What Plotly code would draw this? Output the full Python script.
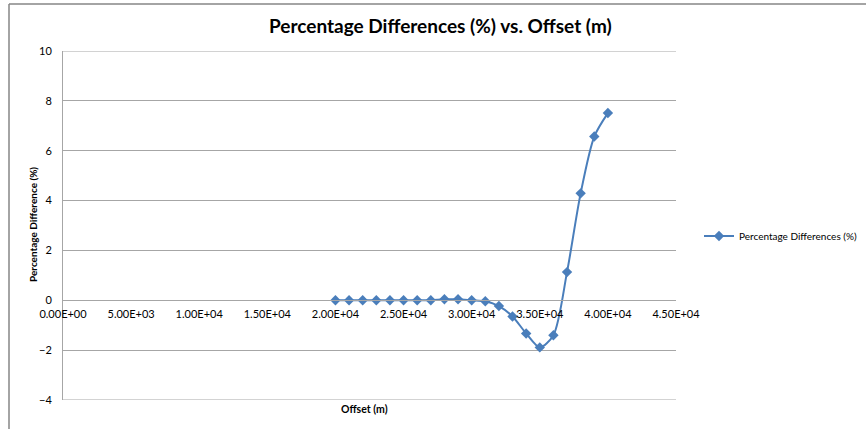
import plotly.graph_objects as go

offset_m = [20000, 21000, 22000, 23000, 24000, 25000, 26000, 27000, 28000, 29000,
            30000, 31000, 32000, 33000, 34000, 35000, 36000, 37000, 38000, 39000, 40000]
pct_diff = [0.0, 0.0, 0.0, 0.0, 0.0, 0.0, 0.0, 0.0, 0.04, 0.04,
            0.0, -0.04, -0.23, -0.65, -1.33, -1.89, -1.40, 1.13, 4.29, 6.57, 7.51]

x_tickvals = [0, 5000, 10000, 15000, 20000, 25000, 30000, 35000, 40000, 45000]
x_ticktext = ["0.00E+00", "5.00E+03", "1.00E+04", "1.50E+04", "2.00E+04",
              "2.50E+04", "3.00E+04", "3.50E+04", "4.00E+04", "4.50E+04"]
y_tickvals = [-4, -2, 0, 2, 4, 6, 8, 10]

W, H = 866, 429
L, R, T, B = 63, 676, 51, 400
pw, ph = R - L, B - T

def px_x(p):
    return (p - L) / pw

def px_y(p):
    return (B - p) / ph

FONT = "Lato, Liberation Sans, sans-serif"
BLUE = "#4A7EBB"
GRID = "#A6A6A6"

fig = go.Figure()
fig.add_trace(go.Scatter(
    x=offset_m, y=pct_diff, mode="lines+markers",
    name="Percentage Differences (%)",
    line=dict(color=BLUE, width=2, shape="spline", smoothing=0.8),
    marker=dict(symbol="diamond", size=8, color=BLUE),
))

fig.update_layout(
    width=W, height=H,
    margin=dict(l=L, r=W - R, t=T, b=H - B, autoexpand=False),
    paper_bgcolor="white", plot_bgcolor="white",
    font=dict(family=FONT, size=11, color="#000000"),
    showlegend=True,
    legend=dict(x=px_x(699), y=px_y(236), xanchor="left", yanchor="middle",
                font=dict(family=FONT, size=10, color="#000000"),
                bgcolor="rgba(0,0,0,0)"),
    xaxis=dict(range=[0, 45000], tickvals=x_tickvals, ticktext=x_ticktext,
               showgrid=False, zeroline=False, showline=True, linecolor=GRID,
               linewidth=1, anchor="free", position=4 / 14, ticks="",
               ticklabelstandoff=4,
               tickfont=dict(family=FONT, size=11, color="#000000")),
    yaxis=dict(range=[-4, 10], tickvals=y_tickvals, showgrid=True,
               gridcolor=GRID, gridwidth=1, zeroline=False, showline=True,
               linecolor=GRID, linewidth=1, ticks="", ticklabelstandoff=8,
               tickfont=dict(family=FONT, size=11, color="#000000")),
)

# gridlines at the ends of the y range
for yv in (min(y_tickvals), max(y_tickvals)):
    fig.add_shape(type="line", xref="paper", yref="y", x0=0, x1=1, y0=yv, y1=yv,
                  line=dict(color=GRID, width=1))

fig.add_annotation(text="<b>Percentage Differences (%) vs. Offset (m)</b>",
                   xref="paper", yref="paper", x=px_x(440), y=px_y(26),
                   xanchor="center", yanchor="middle", showarrow=False,
                   font=dict(family=FONT, size=19, color="#000000"))
fig.add_annotation(text="<b>Offset (m)</b>", xref="paper", yref="paper",
                   x=px_x(364), y=px_y(409), xanchor="center", yanchor="middle",
                   showarrow=False, font=dict(family=FONT, size=10.5, color="#000000"))
fig.add_annotation(text="<b>Percentage Difference (%)</b>", xref="paper", yref="paper",
                   x=px_x(33), y=px_y(225), xanchor="center", yanchor="middle",
                   textangle=-90, showarrow=False,
                   font=dict(family=FONT, size=10, color="#000000"))

# outer chart frame (top and left edges visible)
fig.add_shape(type="line", xref="paper", yref="paper",
              x0=px_x(9), y0=px_y(4), x1=px_x(870), y1=px_y(4),
              line=dict(color="#868686", width=1.5))
fig.add_shape(type="line", xref="paper", yref="paper",
              x0=px_x(9), y0=px_y(4), x1=px_x(9), y1=px_y(435),
              line=dict(color="#868686", width=1.5))

fig.write_html("out.html",
               config={"displayModeBar": False},
               post_script="document.body.style.margin='0';document.body.style.overflow='hidden';")
